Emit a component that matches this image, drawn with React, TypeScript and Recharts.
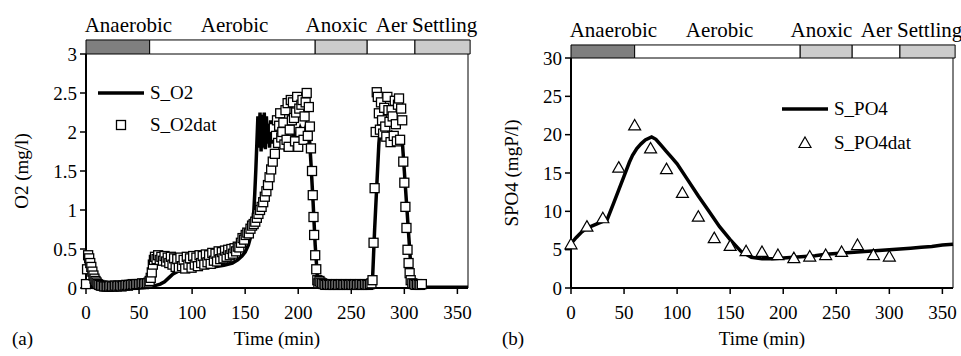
import React from 'react';
import {
    ComposedChart,
    Line,
    Scatter,
    XAxis,
    YAxis,
    ReferenceArea,
    ReferenceLine,
    Legend
} from 'recharts';

const FONT = 'Liberation Serif, Times New Roman, Times, serif';

// cycle phases (minutes)
const PHASE_NAMES = ['Anaerobic', 'Aerobic', 'Anoxic', 'Aer', 'Settling'];
const PHASE_START = [0, 60, 216, 265, 310];
const PHASE_END = [60, 216, 265, 310, 362];
const PHASE_LABEL_AT = [40, 140, 236, 288, 338];
const PHASE_FILLS = ['#7f7f7f', '#ffffff', '#cccccc', '#ffffff', '#cccccc'];

const TIME_TICKS = [0, 50, 100, 150, 200, 250, 300, 350];
const O2_TICKS = [0, 0.5, 1, 1.5, 2, 2.5, 3];
const PO4_TICKS = [0, 5, 10, 15, 20, 25, 30];

// S_O2 model [t, v]
const O2_MODEL = [
    [0, 0.02], [10, 0.01], [20, 0.01], [40, 0.01], [60, 0.02], [65, 0.03], [70, 0.05], [74, 0.08],
    [78, 0.13], [82, 0.18], [86, 0.21], [90, 0.23], [100, 0.25], [110, 0.26], [120, 0.27], [130, 0.29],
    [138, 0.32], [143, 0.36], [147, 0.41], [150, 0.46], [153, 0.55], [155, 0.65], [157, 0.8], [158, 0.95],
    [159, 1.2], [160, 1.5], [161, 1.85], [162, 2.2], [163, 1.8], [164, 2.25], [165, 1.75], [166, 2.22],
    [167, 1.8], [168, 2.25], [169, 1.78], [170, 2.2], [171, 1.85], [172, 2.1], [173, 1.8], [174, 2.15],
    [175, 1.85], [176, 2.05], [178, 1.9], [180, 2.0], [182, 1.85], [185, 1.95], [188, 1.75], [190, 1.95],
    [193, 1.85], [196, 2.0], [199, 1.9], [202, 2.05], [205, 1.95], [208, 2.1], [210, 2.05], [212, 1.6],
    [214, 1.1], [216, 0.55], [218, 0.15], [219, 0.04], [230, 0.01], [260, 0.01], [268, 0.03], [270, 0.1],
    [272, 0.75], [274, 1.3], [276, 1.85], [277, 2.0], [282, 1.95], [288, 2.0], [293, 1.95], [298, 1.9],
    [300, 1.5], [302, 1.1], [304, 0.7], [306, 0.3], [308, 0.05], [310, 0.01], [360, 0.01]
];

// S_O2 measurements, split by phase [t, v]
const O2_DAT_ANAEROBIC = [
    [0, 0.05], [1, 0.24], [2, 0.42], [3, 0.38], [4, 0.32], [5, 0.27], [6, 0.21], [7, 0.16], [8, 0.12],
    [9, 0.09], [10, 0.07], [11, 0.05], [12.5, 0.04], [14, 0.03], [15.5, 0.03], [17, 0.02], [18.5, 0.02],
    [20, 0.02], [21.5, 0.02], [23, 0.03], [24.5, 0.02], [26, 0.02], [27.5, 0.03], [29, 0.02], [30.5, 0.03],
    [32, 0.03], [33.5, 0.02], [35, 0.03], [36.5, 0.03], [38, 0.04], [39.5, 0.03], [41, 0.04], [42.5, 0.04],
    [44, 0.05], [45.5, 0.04], [47, 0.05], [48.5, 0.05], [50, 0.05], [51.5, 0.05], [53, 0.06], [54.5, 0.05],
    [56, 0.06], [57.5, 0.06], [59, 0.07], [60, 0.09]
];
const O2_DAT_AEROBIC = [
    [61, 0.13], [62, 0.2], [63, 0.3], [64, 0.36], [65, 0.4], [66.5, 0.37], [68, 0.42], [69.5, 0.36],
    [71, 0.4], [72.5, 0.35], [74, 0.41], [75.5, 0.34], [77, 0.39], [78.5, 0.32], [80, 0.4], [81.5, 0.3],
    [83, 0.38], [84.5, 0.27], [86, 0.37], [87.5, 0.26], [89, 0.39], [90.5, 0.28], [92, 0.36], [93.5, 0.25],
    [95, 0.4], [96.5, 0.3], [98, 0.38], [99.5, 0.26], [101, 0.41], [102.5, 0.3], [104, 0.39], [105.5, 0.28],
    [107, 0.42], [108.5, 0.32], [110, 0.41], [111.5, 0.3], [113, 0.43], [114.5, 0.33], [116, 0.42], [117.5, 0.31],
    [119, 0.45], [120.5, 0.35], [122, 0.44], [123.5, 0.34], [125, 0.47], [126.5, 0.37], [128, 0.46], [129.5, 0.38],
    [131, 0.48], [132.5, 0.4], [134, 0.49], [135.5, 0.42], [137, 0.5], [138.5, 0.44], [140, 0.51], [141.5, 0.47],
    [143, 0.53], [144.5, 0.52], [146, 0.58], [147.5, 0.64], [149, 0.62], [150.5, 0.68], [152, 0.71], [153.5, 0.7],
    [155, 0.76], [156.5, 0.8], [158, 0.82], [159.5, 0.85], [161, 0.9], [162.5, 0.95], [164, 1.0], [165.5, 1.04],
    [167, 1.1], [168.5, 1.17], [170, 1.24], [171.5, 1.32], [173, 1.42], [174.5, 1.52], [176, 1.62], [177, 2.05],
    [178, 1.72], [179, 1.95], [180, 2.15], [181, 1.86], [182, 2.08], [183, 2.24], [184, 1.93], [185, 2.0],
    [186, 2.12], [187, 1.84], [188, 2.28], [189, 1.9], [190, 2.37], [191, 1.81], [192, 2.03], [193, 2.41],
    [194, 2.15], [195, 2.38], [196, 2.18], [197, 1.88], [198, 2.25], [199, 2.45], [200, 1.81], [201, 2.3],
    [202, 2.0], [203, 2.35], [204, 2.41], [205, 1.9], [206, 2.2], [207, 2.38], [208, 2.5], [209, 1.95],
    [210, 2.32], [211, 2.07], [212, 1.79], [213, 1.5], [213.7, 1.19], [214.4, 0.91], [215, 0.68], [216, 0.42],
    [217, 0.24], [218, 0.1], [219, 0.06]
];
const O2_DAT_ANOXIC = [
    [220, 0.09], [221, 0.07], [222.5, 0.06], [224, 0.05], [225.5, 0.04], [227, 0.05], [228.5, 0.04], [230, 0.04],
    [231.5, 0.05], [233, 0.04], [234.5, 0.04], [236, 0.05], [237.5, 0.04], [239, 0.04], [240.5, 0.05], [242, 0.04],
    [243.5, 0.04], [245, 0.05], [246.5, 0.04], [248, 0.04], [249.5, 0.05], [251, 0.04], [252.5, 0.04], [254, 0.05],
    [255.5, 0.04], [257, 0.04], [258.5, 0.05], [260, 0.04], [261.5, 0.04], [263, 0.05], [264.5, 0.04], [266, 0.04],
    [267.5, 0.05], [269, 0.06]
];
const O2_DAT_AER = [
    [270, 0.1], [271, 0.58], [272, 1.28], [273, 2.0], [274, 2.51], [275, 2.45], [276, 2.24], [277, 2.03],
    [278, 2.38], [279, 2.15], [280, 1.98], [281, 2.31], [282, 2.07], [283, 1.94], [284, 2.45], [285, 2.28],
    [286, 2.13], [287, 1.87], [288, 2.28], [289, 2.2], [290, 1.95], [291, 2.4], [292, 2.1], [293, 1.88],
    [294, 2.35], [295, 2.43], [296, 1.9], [297, 2.3], [298, 2.15], [299, 1.62], [300, 1.35], [301, 1.04],
    [302, 0.77], [303, 0.49], [304, 0.32], [305, 0.19], [306, 0.1], [307.5, 0.06], [309, 0.05], [310.5, 0.04],
    [312, 0.05], [313.5, 0.04], [315, 0.04], [316.5, 0.05]
];

// S_PO4 model [t, v]
const PO4_MODEL = [
    [0, 5.8], [5, 6.6], [10, 7.3], [15, 7.8], [20, 8.1], [25, 8.4], [30, 8.7], [34, 8.9], [40, 11.0],
    [45, 12.8], [50, 14.6], [55, 16.4], [58, 17.3], [62, 18.2], [66, 18.8], [70, 19.3], [76, 19.7],
    [80, 19.4], [85, 18.6], [90, 17.8], [95, 17.0], [100, 16.2], [110, 14.1], [120, 12.0], [130, 10.0],
    [140, 8.0], [150, 6.3], [160, 4.8], [170, 4.0], [180, 3.8], [190, 3.8], [200, 3.9], [210, 4.0],
    [220, 4.1], [230, 4.2], [240, 4.4], [250, 4.5], [260, 4.6], [270, 4.7], [280, 4.8], [290, 4.9],
    [300, 5.0], [310, 5.1], [320, 5.2], [330, 5.3], [340, 5.4], [350, 5.6], [360, 5.7]
];

// S_PO4 measurements
const PO4_DAT_T = [0, 15, 30, 45, 60, 75, 90, 105, 120, 135, 150, 165, 180, 195, 210, 225, 240, 255, 270, 285, 300];
const PO4_DAT_V = [5.7, 8.0, 9.1, 15.7, 21.2, 18.2, 15.5, 12.4, 9.3, 6.5, 5.5, 4.8, 4.7, 4.3, 3.9, 4.1, 4.3, 4.7, 5.6, 4.3, 4.1];

const toPts = (pairs: number[][]) => pairs.map(([t, v]) => ({ t, v }));

const o2Model = toPts(O2_MODEL);
const o2Dat = toPts([...O2_DAT_ANAEROBIC, ...O2_DAT_AEROBIC, ...O2_DAT_ANOXIC, ...O2_DAT_AER]);
const po4Model = toPts(PO4_MODEL);
const po4Dat = PO4_DAT_T.map((t, i) => ({ t, v: PO4_DAT_V[i] }));

const Square = (p: any) => (
    <rect x={p.cx - 4.5} y={p.cy - 4.5} width={9} height={9} fill="#fff" stroke="#000" strokeWidth={1.3} />
);
const Triangle = (p: any) => (
    <path d={`M${p.cx},${p.cy - 6} L${p.cx + 6},${p.cy + 4.5} L${p.cx - 6},${p.cy + 4.5} Z`} fill="#fff" stroke="#000" strokeWidth={1.2} />
);

const tickStyle = { fill: '#000', fontSize: 19, fontFamily: FONT };

const Panel = ({ cfg }: { cfg: any }) => {
    const { left, width, marginRight, plotTop, yAxisWidth, yMax, barTop, yTicks, yTitle, yTitleX, tag, tagX,
        line, dots, Marker, lineName, dotName, legendLeft, legendTop, phaseOffset } = cfg;

    const renderLegend = () => (
        <svg width={160} height={60} style={{ overflow: 'visible' }}>
            <line x1={0} y1={8} x2={46} y2={8} stroke="#000" strokeWidth={3.5} />
            <text x={52} y={14} fontSize={19} fontFamily={FONT}>{lineName}</text>
            <Marker cx={23} cy={cfg.dotRowY} />
            <text x={52} y={cfg.dotRowY + 6} fontSize={19} fontFamily={FONT}>{dotName}</text>
        </svg>
    );

    return (
        <div style={{ position: 'absolute', left, top: 0, width, height: 356 }}>
            <ComposedChart width={width} height={356} margin={{ top: plotTop, right: marginRight, bottom: 0, left: 0 }}>
                <XAxis
                    dataKey="t"
                    type="number"
                    domain={[0, 360]}
                    ticks={TIME_TICKS}
                    interval={0}
                    height={68}
                    axisLine={{ stroke: '#000', strokeWidth: 2 }}
                    tickLine={{ stroke: '#000', strokeWidth: 1.5 }}
                    tickSize={6}
                    tickMargin={12}
                    tick={tickStyle}
                    label={(p: any) => (
                        <g>
                            <text x={p.viewBox.x + p.viewBox.width / 2} y={p.viewBox.y + 57} textAnchor="middle" fontSize={19} fontFamily={FONT}>Time (min)</text>
                            <text x={tagX} y={p.viewBox.y + 57} fontSize={19} fontFamily={FONT}>{tag}</text>
                        </g>
                    )}
                />
                <YAxis
                    dataKey="v"
                    type="number"
                    domain={[0, yMax]}
                    ticks={yTicks}
                    interval={0}
                    width={yAxisWidth}
                    axisLine={{ stroke: '#000', strokeWidth: 2 }}
                    tickLine={{ stroke: '#000', strokeWidth: 1.5 }}
                    tickSize={6}
                    tickMargin={3}
                    tick={tickStyle}
                    label={(p: any) => {
                        const cy = p.viewBox.y + p.viewBox.height / 2;
                        return (
                            <text x={yTitleX} y={cy} transform={`rotate(-90 ${yTitleX} ${cy})`} textAnchor="middle" fontSize={19} fontFamily={FONT}>{yTitle}</text>
                        );
                    }}
                />
                {PHASE_NAMES.map((name, i) => (
                    <ReferenceArea
                        key={name}
                        x1={PHASE_START[i]}
                        x2={PHASE_END[i]}
                        y1={yMax}
                        y2={barTop}
                        ifOverflow="visible"
                        fill={PHASE_FILLS[i]}
                        fillOpacity={1}
                        stroke="#000"
                        strokeWidth={1}
                    />
                ))}
                {PHASE_NAMES.map((name, i) => (
                    <ReferenceLine
                        key={`lbl-${name}`}
                        x={PHASE_LABEL_AT[i]}
                        stroke="none"
                        label={{ value: name, position: 'top', offset: phaseOffset, fill: '#000', fontSize: 21, fontFamily: FONT }}
                    />
                ))}
                <ReferenceLine x={360} stroke="#000" strokeWidth={1} />
                <Line data={line} dataKey="v" type="linear" stroke="#000" strokeWidth={3.5} dot={false} isAnimationActive={false} />
                <Scatter data={dots} shape={Marker} isAnimationActive={false} />
                <Legend
                    layout="horizontal"
                    verticalAlign="middle"
                    align="center"
                    content={renderLegend}
                    wrapperStyle={{ left: legendLeft, top: legendTop, width: 160, height: 60 }}
                />
            </ComposedChart>
        </div>
    );
};

const LEFT_CFG = {
    left: 0, width: 480, marginRight: 12, plotTop: 54, yAxisWidth: 86, yMax: 3, barTop: 3.18,
    yTicks: O2_TICKS, yTitle: 'O2 (mg/l)', yTitleX: 28, tag: '(a)', tagX: 12,
    line: o2Model, dots: o2Dat, Marker: Square, lineName: 'S_O2', dotName: 'S_O2dat',
    legendLeft: 98, legendTop: 85, dotRowY: 40, phaseOffset: 22
};

const RIGHT_CFG = {
    left: 480, width: 481, marginRight: 8, plotTop: 58, yAxisWidth: 91, yMax: 30, barTop: 31.7,
    yTicks: PO4_TICKS, yTitle: 'SPO4 (mgP/l)', yTitleX: 38, tag: '(b)', tagX: 22,
    line: po4Model, dots: po4Dat, Marker: Triangle, lineName: 'S_PO4', dotName: 'S_PO4dat',
    legendLeft: 302, legendTop: 101, dotRowY: 42, phaseOffset: 21
};

export default function App() {
    return (
        <div style={{ position: 'absolute', left: 0, top: 0, width: 961, height: 356, background: '#fff' }}>
            <Panel cfg={LEFT_CFG} />
            <Panel cfg={RIGHT_CFG} />
        </div>
    );
}
